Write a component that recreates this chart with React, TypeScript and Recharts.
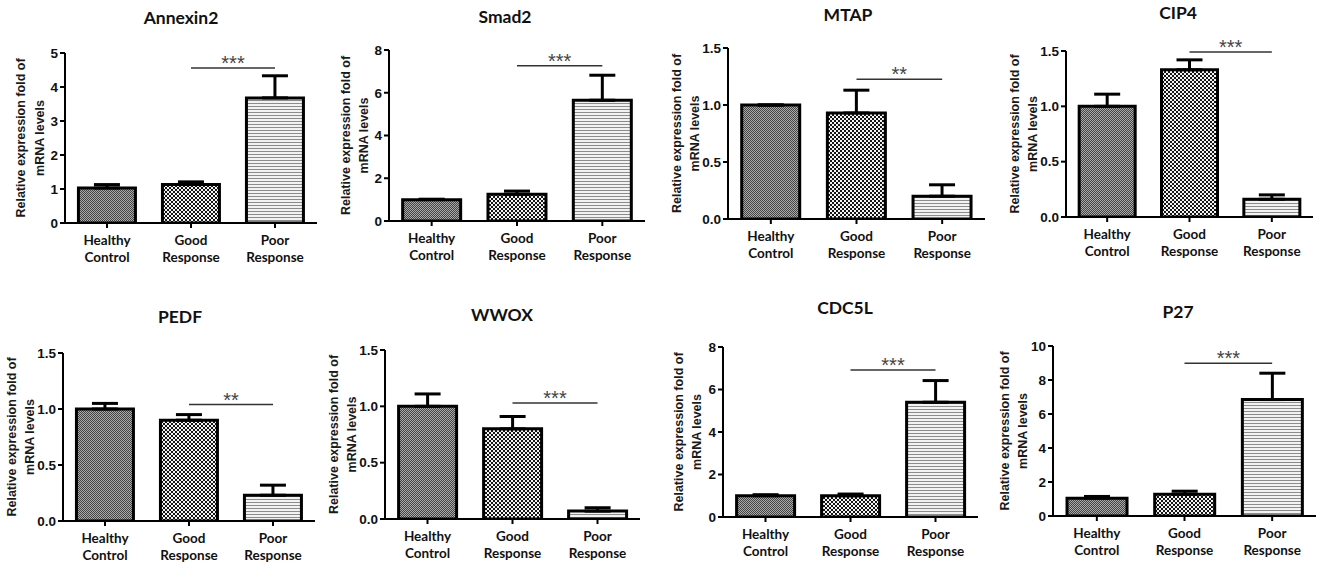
import React from 'react';
import { BarChart, Bar, XAxis, YAxis, ErrorBar, Cell, ReferenceLine } from 'recharts';

// ---------- data ----------
const categories = ['Healthy Control', 'Good Response', 'Poor Response'];
const geneNames = ['Annexin2', 'Smad2', 'MTAP', 'CIP4', 'PEDF', 'WWOX', 'CDC5L', 'P27'];

const annexin2Values = [1.03, 1.13, 3.68];
const annexin2Errors = [0.1, 0.08, 0.65];
const smad2Values = [1.0, 1.25, 5.65];
const smad2Errors = [0.02, 0.15, 1.17];
const mtapValues = [1.0, 0.93, 0.2];
const mtapErrors = [0.0, 0.2, 0.1];
const cip4Values = [1.0, 1.33, 0.16];
const cip4Errors = [0.11, 0.09, 0.04];
const pedfValues = [1.0, 0.9, 0.23];
const pedfErrors = [0.05, 0.05, 0.09];
const wwoxValues = [1.0, 0.8, 0.07];
const wwoxErrors = [0.11, 0.11, 0.03];
const cdc5lValues = [1.0, 1.0, 5.4];
const cdc5lErrors = [0.05, 0.08, 1.02];
const p27Values = [1.05, 1.28, 6.85];
const p27Errors = [0.1, 0.18, 1.55];

const ticks0to5 = [0, 1, 2, 3, 4, 5];
const ticks0to8 = [0, 2, 4, 6, 8];
const ticks0to1p5 = [0, 0.5, 1.0, 1.5];
const ticks0to10 = [0, 2, 4, 6, 8, 10];

const significanceLabels = ['***', '***', '**', '***', '**', '***', '***', '***'];
const significanceHeights = [4.56, 7.26, 1.225, 1.49, 1.04, 1.03, 6.92, 8.98];

const allValues = [annexin2Values, smad2Values, mtapValues, cip4Values, pedfValues, wwoxValues, cdc5lValues, p27Values];
const allErrors = [annexin2Errors, smad2Errors, mtapErrors, cip4Errors, pedfErrors, wwoxErrors, cdc5lErrors, p27Errors];
const allTicks = [ticks0to5, ticks0to8, ticks0to1p5, ticks0to1p5, ticks0to1p5, ticks0to1p5, ticks0to8, ticks0to10];
const tickDecimals = [0, 0, 1, 1, 1, 1, 0, 0];

// ---------- layout (page pixels) ----------
const layout = [
  { axisX: 65, right: 317, top: 53, bottom: 223, titleX: 181, titleY: 18, l1: -44, l2: -25 },
  { axisX: 389, right: 645, top: 50, bottom: 221, titleX: 505, titleY: 17, l1: -43, l2: -25 },
  { axisX: 728, right: 985, top: 48, bottom: 219, titleX: 848, titleY: 15, l1: -51, l2: -33 },
  { axisX: 1066, right: 1313, top: 51, bottom: 217, titleX: 1178, titleY: 13, l1: -51, l2: -33 },
  { axisX: 63, right: 315, top: 353, bottom: 521, titleX: 180, titleY: 317, l1: -51, l2: -33 },
  { axisX: 385, right: 640, top: 350, bottom: 519, titleX: 502, titleY: 315, l1: -51, l2: -33 },
  { axisX: 723, right: 978, top: 347, bottom: 517, titleX: 845, titleY: 308, l1: -44, l2: -26 },
  { axisX: 1053, right: 1316, top: 346, bottom: 516, titleX: 1178, titleY: 312, l1: -48, l2: -30 },
];

const fills = ['url(#pHealthy)', 'url(#pGood)', 'url(#pPoor)'];
const ML = 70;
const MT = 40;
const MB = 50;

function CatTick(props: any) {
  const { x, y, payload } = props;
  const parts = String(payload.value).split(' ');
  return (
    <text
      x={x}
      y={y}
      textAnchor="middle"
      fill="#111"
      style={{ fontFamily: 'Lato', fontWeight: 'bold', fontSize: 13.5 }}
    >
      <tspan x={x} dy={15}>{parts[0]}</tspan>
      <tspan x={x} dy={17}>{parts[1]}</tspan>
    </text>
  );
}

function YLabel(props: any) {
  const { lx1, lx2, ly } = props;
  const font = { fontFamily: 'Liberation Sans', fontWeight: 'bold', fontSize: 12.5 } as any;
  return (
    <g>
      <text x={lx1} y={ly} textAnchor="middle" dominantBaseline="central" fill="#1a1a1a" style={font} transform={`rotate(-90, ${lx1}, ${ly})`}>
        Relative expression fold of
      </text>
      <text x={lx2} y={ly} textAnchor="middle" dominantBaseline="central" fill="#1a1a1a" style={font} transform={`rotate(-90, ${lx2}, ${ly})`}>
        mRNA levels
      </text>
    </g>
  );
}

function Panel({ idx }: { idx: number }) {
  const g = layout[idx];
  const values = allValues[idx];
  const errors = allErrors[idx];
  const ticks = allTicks[idx];
  const dec = tickDecimals[idx];
  const data = categories.map((c, i) => ({ cat: c, value: values[i], err: [0, errors[i]] }));
  const width = g.right - g.axisX + ML + 4;
  const height = g.bottom - g.top + MT + MB;
  const plotH = g.bottom - g.top;
  return (
    <>
      <div
        style={{
          position: 'absolute',
          left: g.titleX,
          top: g.titleY,
          transform: 'translate(-50%, -50%)',
          fontFamily: 'Lato',
          fontWeight: 'bold',
          fontSize: 17.5,
          whiteSpace: 'nowrap',
          color: '#111',
          lineHeight: '20px',
        }}
      >
        {geneNames[idx]}
      </div>
      <div style={{ position: 'absolute', left: g.axisX - ML, top: g.top - MT, width, height }}>
        <BarChart
          width={width}
          height={height}
          data={data}
          margin={{ top: MT, right: 4, bottom: 0, left: 0 }}
          barCategoryGap="16%"
        >
          <XAxis
            dataKey="cat"
            height={MB}
            interval={0}
            axisLine={{ stroke: '#000', strokeWidth: 2 }}
            tickLine={{ stroke: '#000', strokeWidth: 2 }}
            tickSize={5}
            tick={<CatTick />}
          />
          <YAxis
            width={ML}
            type="number"
            domain={[ticks[0], ticks[ticks.length - 1]]}
            ticks={ticks}
            interval={0}
            allowDataOverflow
            axisLine={{ stroke: '#000', strokeWidth: 2 }}
            tickLine={{ stroke: '#000', strokeWidth: 2 }}
            tickSize={5}
            tickMargin={2}
            tickFormatter={(v: number) => v.toFixed(dec)}
            tick={{ fill: '#111', fontSize: 13.5, fontWeight: 'bold', fontFamily: 'Liberation Sans' }}
            label={<YLabel lx1={ML + g.l1} lx2={ML + g.l2} ly={MT + plotH / 2} />}
          />
          <Bar dataKey="value" stroke="#000" strokeWidth={3} isAnimationActive={false}>
            {data.map((d, i) => (
              <Cell key={d.cat} fill={fills[i]} />
            ))}
            <ErrorBar dataKey="err" width={13} strokeWidth={3} stroke="#000" direction="y" />
          </Bar>
          <ReferenceLine
            segment={[
              { x: categories[1], y: significanceHeights[idx] },
              { x: categories[2], y: significanceHeights[idx] },
            ]}
            stroke="#333"
            strokeWidth={1.5}
            ifOverflow="visible"
            label={{ value: significanceLabels[idx], position: 'top', fill: '#444', fontSize: 20, offset: -2, fontFamily: 'Liberation Sans' }}
          />
        </BarChart>
      </div>
    </>
  );
}

export default function App() {
  return (
    <div style={{ position: 'absolute', left: 0, top: 0, width: 1318, height: 564, background: '#fff', overflow: 'hidden' }}>
      <svg width={0} height={0} style={{ position: 'absolute' }}>
        <defs>
          <pattern id="pHealthy" width={2} height={2} patternUnits="userSpaceOnUse">
            <rect x={0} y={0} width={2} height={2} fill="#aaaaaa" />
            <rect x={0} y={0} width={1} height={1} fill="#444444" />
            <rect x={1} y={1} width={1} height={1} fill="#444444" />
          </pattern>
          <pattern id="pGood" width={4} height={4} patternUnits="userSpaceOnUse">
            <rect x={0} y={0} width={4} height={4} fill="#f4f4f4" />
            <rect x={0} y={0} width={2} height={2} fill="#151515" />
            <rect x={2} y={2} width={2} height={2} fill="#151515" />
          </pattern>
          <pattern id="pPoor" width={4} height={3} patternUnits="userSpaceOnUse">
            <rect x={0} y={0} width={4} height={3} fill="#f2f2f2" />
            <rect x={0} y={0} width={4} height={1} fill="#8c8c8c" />
          </pattern>
        </defs>
      </svg>
      {layout.map((_, i) => (
        <Panel key={geneNames[i]} idx={i} />
      ))}
    </div>
  );
}
